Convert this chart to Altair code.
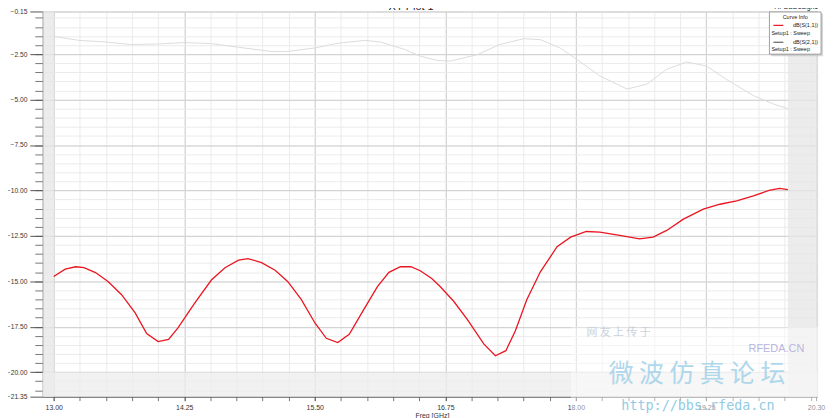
import altair as alt
import pandas as pd

# ---------------- data ----------------
freq_s11 = [13.00, 13.11, 13.21, 13.29, 13.40, 13.52, 13.65, 13.78, 13.89, 14.00,
            14.10, 14.19, 14.35, 14.51, 14.64, 14.77, 14.86, 14.99, 15.12, 15.24,
            15.37, 15.50, 15.61, 15.72, 15.83, 15.97, 16.10, 16.21, 16.32, 16.42,
            16.51, 16.62, 16.70, 16.83, 16.96, 17.12, 17.23, 17.33, 17.42, 17.53,
            17.66, 17.82, 17.95, 18.10, 18.23, 18.42, 18.61, 18.74, 18.87, 19.03,
            19.22, 19.38, 19.54, 19.70, 19.85, 19.95, 20.03]
db_s11 = [-14.74, -14.33, -14.20, -14.25, -14.52, -15.01, -15.74, -16.74, -17.88, -18.32,
          -18.20, -17.56, -16.20, -14.93, -14.25, -13.84, -13.75, -13.97, -14.39, -15.01,
          -16.00, -17.28, -18.14, -18.37, -17.92, -16.55, -15.29, -14.51, -14.20, -14.20,
          -14.42, -14.85, -15.29, -16.10, -17.10, -18.46, -19.10, -18.82, -17.74, -16.02,
          -14.48, -13.10, -12.57, -12.26, -12.30, -12.47, -12.66, -12.57, -12.20, -11.58,
          -11.03, -10.76, -10.58, -10.30, -10.00, -9.89, -9.95]

freq_s21 = [13.00, 13.24, 13.50, 13.74, 14.00, 14.26, 14.51, 14.77, 15.08, 15.24,
            15.50, 15.72, 15.98, 16.13, 16.36, 16.51, 16.67, 16.80, 17.06, 17.27,
            17.50, 17.66, 17.85, 18.01, 18.23, 18.49, 18.68, 18.87, 19.06, 19.25,
            19.44, 19.70, 19.89, 20.03]
db_s21 = [-1.52, -1.74, -1.83, -1.97, -1.94, -1.86, -1.92, -2.12, -2.35, -2.35,
          -2.16, -1.90, -1.74, -1.83, -2.24, -2.61, -2.84, -2.88, -2.52, -1.97,
          -1.65, -1.70, -2.16, -2.79, -3.70, -4.42, -4.15, -3.33, -2.93, -3.15,
          -3.88, -4.78, -5.24, -5.50]

x_major_ticks = [13.00, 14.25, 15.50, 16.75, 18.00, 19.25, 20.30]
y_major_ticks = [-0.15, -2.50, -5.00, -7.50, -10.00, -12.50, -15.00, -17.50, -20.00, -21.35]
x_minor_ticks = [13.00 + 0.25 * i for i in range(30)]
y_minor_ticks = [-0.5 * i for i in range(1, 43)]

x_domain = [12.895, 20.31]
y_domain = [-21.35, -0.15]
shade_x_left = [12.895, 13.00]
shade_x_right = [20.03, 20.31]
shade_y_bottom = [-21.35, -20.00]

curve_names = ["dB(S(1,1))", "dB(S(2,1))"]
setup_name = "Setup1 : Sweep"
plot_title = "XY Plot 1"
design_name = "HFSSDesign1"
x_title = "Freq [GHz]"
wm_big = "微   波   仿   真   论   坛"
wm_url = "http://bbs.rfeda.cn"
wm_site = "RFEDA.CN"
wm_small = "网 友 上 传 于"

# ---------------- chart ----------------
W, H = 780, 388
FONT = "Liberation Sans"
RED = "#ea1520"
GRAY = "#dcdcdc"

xs = alt.Scale(domain=x_domain, nice=False, zero=False)
ys = alt.Scale(domain=y_domain, nice=False, zero=False)

df11 = pd.DataFrame({"freq": freq_s11, "db": db_s11})
df21 = pd.DataFrame({"freq": freq_s21, "db": db_s21})
shade_lr = pd.DataFrame({"x1": [shade_x_left[0], shade_x_right[0]],
                         "x2": [shade_x_left[1], shade_x_right[1]]})
shade_b = pd.DataFrame({"y1": [shade_y_bottom[0]], "y2": [shade_y_bottom[1]]})
one = pd.DataFrame({"k": [0]})

minor_x_axis = alt.Axis(values=x_minor_ticks, orient="bottom", labels=False, tickSize=4,
                        tickColor="#777", domain=False, grid=True, gridColor="#ebebeb",
                        title=None)
minor_y_axis = alt.Axis(values=y_minor_ticks, orient="left", labels=False, tickSize=8,
                        tickColor="#777", domain=False, grid=True, gridColor="#ebebeb",
                        title=None)
major_x_axis = alt.Axis(values=x_major_ticks, orient="bottom", format=".2f",
                        labelFont=FONT, labelFontSize=7, labelColor="#333",
                        labelFlush=False, labelOverlap=False, labelPadding=3,
                        tickSize=4, tickColor="#666", domain=True, domainColor="#555",
                        grid=True, gridColor="#cfcfcf", title=x_title,
                        titleFont=FONT, titleFontSize=7, titleFontWeight="normal",
                        titleColor="#333", titlePadding=1, titleX=392)
major_y_axis = alt.Axis(values=y_major_ticks, orient="left", format=".2f",
                        labelFont=FONT, labelFontSize=6.7, labelColor="#333",
                        labelOverlap=False, labelPadding=3, labelFlush=False,
                        tickSize=13, tickColor="#555", domain=True, domainColor="#555",
                        grid=True, gridColor="#cfcfcf", title=None)

shadeLR = alt.Chart(shade_lr).mark_rect(color="#e6e6e6", opacity=0.75).encode(
    x=alt.X("x1:Q", scale=xs, axis=None), x2="x2:Q",
    y=alt.value(0), y2=alt.value(H))
shadeB = alt.Chart(shade_b).mark_rect(color="#ececec", opacity=0.75).encode(
    y=alt.Y("y1:Q", scale=ys, axis=None), y2="y2:Q",
    x=alt.value(0), x2=alt.value(W))

line21 = alt.Chart(df21).mark_line(color=GRAY, strokeWidth=1).encode(
    x=alt.X("freq:Q", scale=xs, axis=minor_x_axis),
    y=alt.Y("db:Q", scale=ys, axis=minor_y_axis))
line11 = alt.Chart(df11).mark_line(color=RED, strokeWidth=1.3).encode(
    x=alt.X("freq:Q", scale=xs, axis=major_x_axis),
    y=alt.Y("db:Q", scale=ys, axis=major_y_axis))


def txt(s, x, y, size, align="left", color="#222", font=FONT, **kw):
    return alt.Chart(one).mark_text(font=font, fontSize=size, align=align,
                                    baseline="middle", color=color, **kw).encode(
        x=alt.value(x), y=alt.value(y), text=alt.value(s))


def box(x1, x2, y1, y2, **kw):
    return alt.Chart(one).mark_rect(**kw).encode(
        x=alt.value(x1), x2=alt.value(x2), y=alt.value(y1), y2=alt.value(y2))


def seg(x1, x2, y, color, width):
    return alt.Chart(one).mark_rule(color=color, strokeWidth=width).encode(
        x=alt.value(x1), x2=alt.value(x2), y=alt.value(y))


# watermark
wm_layers = [
    box(532, 790, 318, 410, color="white", opacity=0.45),
    txt(wm_small, 580, 324, 11, align="center", color="#c9d2dc", font="Noto Sans CJK SC"),
    txt(wm_site, 739, 340, 11, align="center", color="#b9b4e0"),
    txt(wm_big, 659, 365, 25, align="center", color="#a3d2e9", font="Noto Sans CJK SC",
        opacity=0.85),
    txt(wm_url, 660, 397, 13.5, align="center", color="#92cbe4", font="DejaVu Sans Mono"),
]

# legend box
legend_layers = [
    box(734, 786, 2, 45, color="#bdbdbd", opacity=0.6),
    box(732, 784, 0.5, 43, fill="white", stroke="#8a8a8a", strokeWidth=0.8),
    txt("Curve Info", 758, 6, 5.5, align="center"),
    seg(736, 746, 14, RED, 1.2),
    txt(curve_names[0], 781, 14, 5.5, align="right"),
    txt(setup_name, 734, 22, 5.5),
    seg(736, 746, 31, "#444", 1),
    txt(curve_names[1], 781, 31, 5.5, align="right"),
    txt(setup_name, 734, 38, 5.5),
]

top_layers = [
    txt(plot_title, 371, -4, 11, align="center"),
    txt(design_name, 759, -4, 7, align="center"),
]

chart = alt.layer(
    shadeLR, shadeB, line21, line11, *wm_layers, *legend_layers, *top_layers
).resolve_axis(x="independent", y="independent").properties(
    width=W, height=H,
    autosize=alt.AutoSizeParams(type="none"),
    padding={"left": 35, "top": 2, "right": 12, "bottom": 20},
).configure_view(stroke="#888", strokeWidth=1).configure(background="white")

chart.save("out.html", embed_options={"renderer": "svg", "actions": False})
